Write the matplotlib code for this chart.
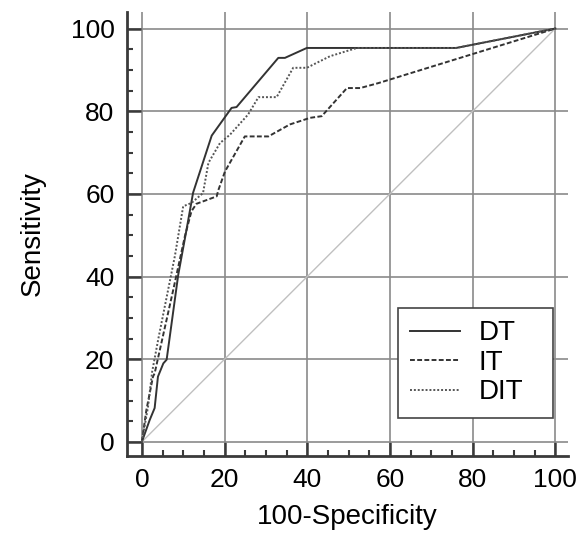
import numpy as np
import matplotlib.pyplot as plt
from matplotlib.ticker import MultipleLocator

plt.rcParams['font.family'] = ['Liberation Sans', 'DejaVu Sans']

# ROC curves (100-Specificity, Sensitivity)
dt_x = [0, 1.9, 3.1, 3.9, 5.2, 6.0, 8.8, 10.8, 12.4, 16.9, 21.7, 22.9, 33.0, 34.6, 39.9, 76.0, 100]
dt_y = [0, 5.3, 8.2, 15.8, 19.0, 19.9, 40.4, 51.3, 60.3, 74.1, 80.8, 81.0, 92.9, 92.9, 95.3, 95.3, 100]

it_x = [0, 1.1, 2.7, 3.1, 7.6, 10.4, 12.0, 13.2, 18.1, 18.5, 20.1, 24.9, 30.6, 35.8, 40.7, 43.5, 49.6, 52.8, 57.2, 100]
it_y = [0, 7.7, 15.8, 16.6, 36.8, 49.7, 55.8, 57.6, 59.4, 60.9, 65.4, 73.9, 73.9, 76.8, 78.4, 78.8, 85.6, 85.6, 86.8, 100]

dit_x = [0, 1.5, 2.5, 4.0, 8.0, 10.0, 12.0, 14.8, 16.1, 18.9, 21.3, 25.7, 28.2, 32.6, 36.6, 39.9, 45.5, 52.0, 76.0, 100]
dit_y = [0, 8.5, 17.0, 25.0, 45.0, 57.0, 57.8, 60.2, 67.5, 72.3, 74.3, 79.2, 83.4, 83.4, 90.5, 90.5, 93.3, 95.3, 95.3, 100]

labels = ['DT', 'IT', 'DIT']

fig = plt.figure(figsize=(5.77, 5.33), dpi=100)
ax = fig.add_axes([0.220, 0.1445, 0.764, 0.833])

ax.plot([0, 100], [0, 100], color='#c0c0c0', lw=1.0, zorder=1)
ax.plot(dt_x, dt_y, color='#333333', lw=1.4, ls='-', label=labels[0], zorder=3)
ax.plot(it_x, it_y, color='#333333', lw=1.4, ls=(0, (2.5, 1.2)), label=labels[1], zorder=3)
ax.plot(dit_x, dit_y, color='#555555', lw=1.4, ls=(0, (1, 1)), label=labels[2], zorder=3)

ax.set_xlim(-3.6, 103)
ax.set_ylim(-3.4, 104)
ax.xaxis.set_major_locator(MultipleLocator(20))
ax.yaxis.set_major_locator(MultipleLocator(20))
ax.xaxis.set_minor_locator(MultipleLocator(5))
ax.yaxis.set_minor_locator(MultipleLocator(5))
ax.grid(True, which='major', color='#8a8a8a', lw=1.2)
ax.set_axisbelow(True)

for s in ['top', 'right']:
    ax.spines[s].set_visible(False)
for s in ['left', 'bottom']:
    ax.spines[s].set_color('#3a3a3a')
    ax.spines[s].set_linewidth(2.0)

ax.tick_params(which='major', direction='in', length=10, width=1.8, color='#3a3a3a',
               labelsize=19, pad=9)
ax.tick_params(which='minor', direction='in', length=4.5, width=1.5, color='#3a3a3a')

ax.set_xlabel('100-Specificity', fontsize=20, labelpad=8)
ax.set_ylabel('Sensitivity', fontsize=20, labelpad=18)

leg = ax.legend(loc='lower left', bbox_to_anchor=(0.6145, 0.0856, 0.3515, 0.25),
                mode='expand', fontsize=20,
                frameon=True, fancybox=False, edgecolor='#444444', framealpha=1,
                handlelength=1.8, handletextpad=0.65, borderpad=0.45, labelspacing=0.13,
                borderaxespad=0)
leg.get_frame().set_linewidth(1.2)

fig.savefig('out.png', dpi=100)
